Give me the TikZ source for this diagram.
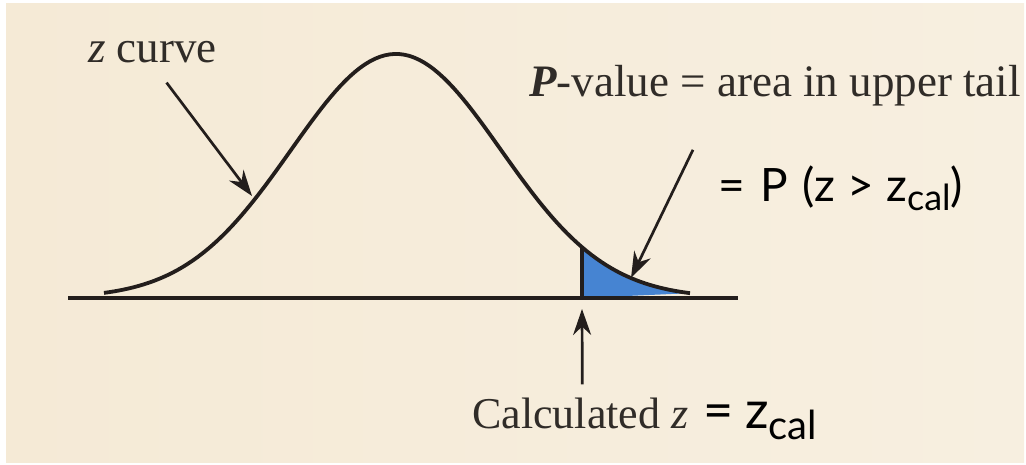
\documentclass[tikz,border=0pt]{standalone}
\usepackage{fontspec}
\setmainfont{Liberation Serif}
\newfontfamily\gillsans{Lato}
\usetikzlibrary{arrows.meta,positioning}
\definecolor{paper}{RGB}{245,234,214}
\definecolor{paperhi}{RGB}{247,239,224}
\definecolor{tailblue}{RGB}{70,132,210}
\definecolor{ink}{RGB}{35,30,28}
\definecolor{print}{RGB}{48,44,40}
\pgfmathdeclarefunction{zcurve}{1}{%
  \pgfmathparse{298-244*exp(-0.5*((#1-396)/105)*((#1-396)/105))}%
}
% lowered subscript for the slide text
\newcommand{\calsub}[2]{\raisebox{-#2}{\fontsize{#1}{#1}\selectfont cal}}
\tikzset{
  pointer/.style={-{Stealth[length=26pt,width=18pt]}, line width=2.7pt, ink},
  curve/.style={line width=3.8pt, ink},
  axisline/.style={line width=4pt, ink},
  book/.style={inner sep=2pt, text=print, anchor=base west},
  slide/.style={inner sep=2pt, text=black, anchor=base west},
}

\begin{document}
\begin{tikzpicture}[x=1pt,y=-1pt]
  \useasboundingbox (0,0) rectangle (1026,465);
  % Background
  \shade[left color=paper, right color=paperhi] (6,4) rectangle (1024,462);

  % Upper tail
  \fill[tailblue] (582,298) -- plot[domain=582:690, samples=30] (\x,{zcurve(\x)}) -- cycle;
  \draw[line width=3.5pt, ink] (582,298) -- (582,{zcurve(582)});

  % Density curve and axis
  \draw[curve, domain=104:690, samples=120] plot (\x,{zcurve(\x)});
  \draw[axisline] (68,298) -- (738,298);

  % Labels
  \node[book, font=\fontsize{45}{50}\selectfont] (zlabel) at (86,63) {\textit{z} curve};
  \node[book, font=\fontsize{45}{50}\selectfont] (pvlabel) at (527,97)
    {\textbf{\textit{P}}-value = area in upper tail};
  \node[slide, font=\gillsans\fontsize{46}{50}\selectfont] (probeq) at (716,202)
    {=\hspace{16pt}P\hspace{14pt}(z\hspace{12pt}>\hspace{12pt}z\calsub{36}{9pt})};
  \node[book, font=\fontsize{44}{48}\selectfont] (calclabel) at (470,428) {Calculated \textit{z}};
  \node[slide, font=\gillsans\fontsize{52}{56}\selectfont] (zcaleq) at (701,428)
    {=\hspace{12pt}z\calsub{40}{11pt}};

  % Pointers
  \coordinate (zcurvept) at (252,196);
  \coordinate (tailpt) at (631,278);
  \coordinate (zcalpt) at (582,309);
  \draw[pointer] ([shift={(14,17)}]zlabel.south) -- (zcurvept);
  \draw[pointer] ([shift={(166,41)}]pvlabel.south west) -- (tailpt);
  \draw[pointer] ([shift={(2,-11)}]calclabel.north) -- (zcalpt);
\end{tikzpicture}
\end{document}
